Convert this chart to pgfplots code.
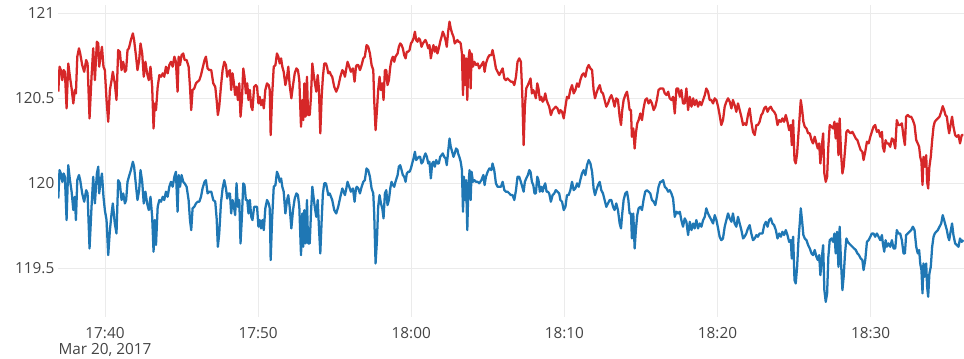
\documentclass[border=0pt]{standalone}
\usepackage{fontspec}
\setmainfont{Open Sans}
\usepackage{pgfplots}
\usepackage{pgfplotstable}
\pgfplotsset{compat=1.18}
\usetikzlibrary{calc}
\definecolor{redline}{HTML}{D62728}
\definecolor{blueline}{HTML}{1F77B4}
\definecolor{gridc}{HTML}{EBEBEB}
\definecolor{tickc}{HTML}{444444}

% t = minutes after 17:00, red series, blue series
\pgfplotstableread{
t red blue
36.95 120.539 119.911
37.03 120.686 120.078
37.12 120.666 120.058
37.21 120.607 120.009
37.30 120.666 120.058
37.38 120.656 120.039
37.49 120.441 119.784
37.60 120.705 120.107
37.71 120.627 120.019
37.82 120.558 119.951
37.93 120.470 119.843
38.03 120.549 119.921
38.10 120.529 119.784
38.19 120.745 120.019
38.30 120.794 120.049
38.38 120.764 120.019
38.51 120.696 119.941
38.64 120.656 119.892
38.77 120.725 119.960
38.86 120.705 119.941
38.99 120.382 119.617
39.12 120.627 119.862
39.23 120.794 120.039
39.34 120.607 119.882
39.47 120.833 120.058
39.56 120.823 120.098
39.62 120.686 119.941
39.71 120.745 120.009
39.80 120.803 120.058
39.90 120.686 119.921
39.99 120.666 119.843
40.10 120.490 119.784
40.21 120.362 119.578
40.32 120.549 119.725
40.43 120.607 119.823
40.51 120.656 119.882
40.64 120.588 119.764
40.75 120.490 119.705
40.86 120.784 120.019
40.97 120.774 120.000
41.08 120.666 119.902
41.19 120.715 119.941
41.30 120.656 119.882
41.38 120.666 119.902
41.47 120.784 120.009
41.56 120.794 120.039
41.69 120.843 120.078
41.82 120.882 120.127
41.90 120.843 120.098
42.03 120.745 119.980
42.12 120.666 119.902
42.23 120.725 119.960
42.32 120.823 120.078
42.43 120.764 120.009
42.53 120.627 119.882
42.64 120.715 119.951
42.75 120.647 119.882
42.86 120.607 119.843
42.97 120.686 119.921
43.08 120.568 119.803
43.17 120.323 119.598
43.25 120.470 119.784
43.33 120.431 119.637
43.44 120.568 119.862
43.55 120.637 119.902
43.66 120.627 119.892
43.77 120.647 119.921
43.87 120.627 119.902
43.98 120.686 119.951
44.09 120.647 119.921
44.20 120.696 119.980
44.31 120.715 120.009
44.42 120.686 119.980
44.53 120.745 120.039
44.63 120.715 120.068
44.74 120.539 119.833
44.81 120.745 120.049
44.90 120.696 119.980
45.00 120.754 120.049
45.11 120.764 120.009
45.20 120.725 120.000
45.33 120.725 119.980
45.46 120.686 119.902
45.55 120.568 119.784
45.63 120.431 119.725
45.72 120.549 119.853
45.83 120.558 119.862
45.94 120.588 119.882
46.05 120.598 119.892
46.16 120.607 119.892
46.27 120.637 119.921
46.37 120.676 119.970
46.50 120.725 120.009
46.59 120.745 120.019
46.70 120.676 119.941
46.81 120.666 119.951
46.94 120.666 119.951
47.07 120.588 119.902
47.20 120.568 119.892
47.29 120.490 119.794
47.37 120.402 119.627
47.46 120.451 119.705
47.57 120.568 119.882
47.68 120.666 119.970
47.79 120.715 120.019
47.90 120.696 119.970
47.98 120.627 119.911
48.07 120.656 119.941
48.16 120.666 119.941
48.24 120.549 119.823
48.33 120.647 119.902
48.42 120.588 119.862
48.50 120.519 119.813
48.59 120.568 120.000
48.68 120.490 119.862
48.77 120.588 119.902
48.85 120.392 119.647
48.94 120.490 119.803
49.03 120.676 120.000
49.11 120.627 119.990
49.20 120.529 119.902
49.29 120.588 119.902
49.37 120.490 119.823
49.46 120.549 119.902
49.55 120.451 119.803
49.63 120.431 119.784
49.74 120.568 119.862
49.85 120.578 119.862
49.93 120.568 119.862
50.02 120.470 119.745
50.10 120.509 119.784
50.19 120.460 119.735
50.28 120.490 119.784
50.37 120.441 119.725
50.47 120.549 119.853
50.58 120.588 119.902
50.69 120.578 119.882
50.76 120.549 119.853
50.82 120.284 119.549
50.91 120.509 119.784
51.02 120.686 119.980
51.13 120.696 119.990
51.23 120.764 120.068
51.32 120.745 120.049
51.41 120.705 120.009
51.50 120.735 120.029
51.58 120.686 119.980
51.67 120.656 119.951
51.78 120.578 119.823
51.89 120.627 119.902
51.97 120.686 119.931
52.06 120.578 119.862
52.17 120.500 119.735
52.28 120.578 119.843
52.39 120.647 119.911
52.50 120.676 119.941
52.60 120.666 119.931
52.69 120.607 119.862
52.80 120.333 119.578
52.89 120.490 119.823
52.95 120.372 119.627
53.02 120.588 119.843
53.10 120.392 119.647
53.19 120.627 119.902
53.26 120.402 119.647
53.37 120.402 119.647
53.45 120.509 119.823
53.54 120.705 119.980
53.63 120.637 119.911
53.71 120.588 119.853
53.80 120.539 119.803
53.89 120.637 119.902
53.97 120.558 119.745
54.06 120.294 119.588
54.15 120.509 119.784
54.23 120.627 119.941
54.32 120.705 120.000
54.43 120.705 120.000
54.50 120.686 119.970
54.58 120.647 119.931
54.67 120.656 119.941
54.76 120.637 119.921
54.84 120.627 119.902
54.97 120.568 119.843
55.10 120.539 119.823
55.23 120.568 119.862
55.37 120.627 119.921
55.50 120.666 119.970
55.58 120.656 119.951
55.67 120.627 119.931
55.76 120.676 119.970
55.84 120.715 120.009
55.95 120.686 119.980
56.06 120.656 119.951
56.19 120.676 119.970
56.30 120.598 119.892
56.39 120.686 119.970
56.45 120.696 119.980
56.54 120.696 119.970
56.65 120.666 119.941
56.76 120.696 119.980
56.87 120.735 120.009
56.97 120.745 120.019
57.08 120.813 120.088
57.19 120.803 120.078
57.30 120.764 120.039
57.41 120.696 119.970
57.52 120.666 119.941
57.58 120.490 119.823
57.67 120.313 119.529
57.76 120.431 119.666
57.84 120.549 119.862
57.93 120.627 119.931
58.02 120.549 119.882
58.11 120.588 119.853
58.19 120.490 119.794
58.28 120.666 119.941
58.37 120.666 119.960
58.45 120.578 119.872
58.54 120.607 119.902
58.63 120.686 119.970
58.71 120.725 120.009
58.80 120.745 119.990
58.89 120.715 119.980
58.97 120.745 120.009
59.11 120.764 120.049
59.19 120.803 120.098
59.28 120.823 120.107
59.37 120.813 120.078
59.45 120.794 120.049
59.54 120.754 120.039
59.63 120.735 120.009
59.71 120.774 120.058
59.80 120.774 120.068
59.89 120.784 120.068
59.98 120.823 120.088
60.06 120.833 120.117
60.15 120.853 120.147
60.24 120.892 120.186
60.32 120.843 120.137
60.41 120.833 120.147
60.50 120.853 120.156
60.58 120.843 120.156
60.67 120.803 120.117
60.76 120.823 120.127
60.84 120.833 120.156
60.93 120.843 120.176
61.02 120.823 120.156
61.11 120.794 120.117
61.19 120.813 120.127
61.28 120.735 120.029
61.37 120.784 120.117
61.45 120.813 120.127
61.54 120.774 120.098
61.63 120.803 120.137
61.71 120.764 120.117
61.80 120.794 120.117
61.89 120.833 120.156
61.98 120.862 120.166
62.06 120.892 120.176
62.15 120.872 120.156
62.24 120.843 120.147
62.32 120.803 120.107
62.41 120.892 120.186
62.50 120.951 120.264
62.58 120.911 120.215
62.67 120.882 120.186
62.76 120.862 120.156
62.84 120.823 120.176
62.93 120.833 120.205
63.02 120.843 120.196
63.06 120.833 120.176
63.14 120.833 120.156
63.23 120.823 120.127
63.31 120.764 120.078
63.38 120.519 119.833
63.44 120.754 120.039
63.51 120.578 119.902
63.58 120.735 120.019
63.66 120.490 119.725
63.73 120.725 119.980
63.81 120.784 120.078
63.88 120.558 119.902
63.94 120.764 120.068
64.03 120.686 120.009
64.12 120.715 120.019
64.23 120.696 120.009
64.34 120.705 120.009
64.44 120.676 120.000
64.58 120.696 120.019
64.71 120.715 120.049
64.79 120.656 119.990
64.88 120.705 120.039
64.99 120.735 120.068
65.10 120.754 120.088
65.23 120.754 120.078
65.31 120.784 120.117
65.42 120.735 120.078
65.53 120.676 120.000
65.64 120.656 119.980
65.75 120.637 119.980
65.86 120.656 119.980
65.97 120.676 120.009
66.08 120.617 119.960
66.18 120.607 119.951
66.29 120.617 119.951
66.40 120.607 119.941
66.51 120.598 119.931
66.62 120.598 119.931
66.73 120.578 119.902
66.84 120.627 119.960
66.94 120.715 120.039
67.05 120.735 120.039
67.16 120.715 120.009
67.25 120.529 119.980
67.34 120.225 119.951
67.42 120.451 120.009
67.51 120.558 120.029
67.62 120.578 120.049
67.71 120.598 120.078
67.79 120.617 120.068
67.88 120.529 120.009
67.97 120.549 119.990
68.05 120.529 119.941
68.14 120.500 119.941
68.23 120.588 120.039
68.31 120.558 120.019
68.40 120.490 119.951
68.49 120.509 119.980
68.58 120.480 119.951
68.66 120.490 119.980
68.75 120.529 120.000
68.84 120.490 119.951
68.92 120.470 119.951
69.01 120.451 119.941
69.12 120.402 119.892
69.23 120.431 119.931
69.34 120.441 119.941
69.44 120.451 119.960
69.55 120.441 119.951
69.66 120.411 119.941
69.74 120.431 119.902
69.85 120.421 119.892
69.96 120.382 119.843
70.07 120.451 119.862
70.17 120.509 119.931
70.28 120.500 119.931
70.39 120.549 119.960
70.50 120.578 120.009
70.61 120.529 119.960
70.72 120.549 119.970
70.83 120.588 120.000
70.94 120.568 119.980
71.04 120.607 120.019
71.15 120.637 120.058
71.26 120.647 120.078
71.37 120.627 120.049
71.48 120.676 120.107
71.59 120.696 120.137
71.70 120.676 120.117
71.81 120.666 120.068
71.91 120.549 119.970
72.00 120.500 119.931
72.09 120.529 119.960
72.20 120.558 119.990
72.31 120.578 120.009
72.41 120.539 119.960
72.52 120.529 119.941
72.63 120.490 119.902
72.74 120.451 119.862
72.85 120.470 119.882
72.96 120.500 119.902
73.07 120.519 119.902
73.18 120.490 119.862
73.28 120.451 119.843
73.39 120.500 119.882
73.50 120.490 119.843
73.61 120.392 119.764
73.70 120.343 119.735
73.78 120.431 119.823
73.87 120.490 119.902
73.98 120.519 119.941
74.09 120.539 119.951
74.18 120.490 119.902
74.26 120.431 119.823
74.35 120.431 119.823
74.41 120.274 119.676
74.50 120.323 119.823
74.59 120.205 119.617
74.67 120.294 119.725
74.76 120.353 119.813
74.85 120.372 119.853
74.96 120.411 119.862
75.07 120.372 119.843
75.17 120.441 119.902
75.28 120.490 119.951
75.39 120.500 119.960
75.50 120.470 119.951
75.61 120.490 119.941
75.72 120.470 119.902
75.83 120.431 119.892
75.94 120.451 119.872
76.04 120.490 119.921
76.15 120.549 119.980
76.26 120.558 120.009
76.34 120.558 120.009
76.45 120.558 120.019
76.56 120.529 119.980
76.67 120.519 119.970
76.78 120.539 119.951
76.88 120.500 119.960
76.99 120.490 119.941
77.10 120.509 119.911
77.21 120.411 119.803
77.32 120.558 119.833
77.43 120.558 119.823
77.54 120.509 119.833
77.64 120.549 119.784
77.75 120.470 119.745
77.86 120.470 119.794
77.97 120.558 119.774
78.08 120.431 119.696
78.19 120.509 119.774
78.30 120.451 119.725
78.41 120.500 119.764
78.51 120.460 119.735
78.62 120.490 119.784
78.73 120.451 119.735
78.84 120.480 119.764
78.95 120.460 119.745
79.06 120.490 119.784
79.17 120.519 119.803
79.27 120.558 119.853
79.38 120.539 119.823
79.49 120.490 119.803
79.60 120.490 119.784
79.71 120.470 119.764
79.82 120.500 119.813
79.93 120.490 119.784
80.04 120.451 119.735
80.14 120.402 119.686
80.25 120.343 119.666
80.36 120.372 119.676
80.47 120.451 119.745
80.58 120.480 119.784
80.69 120.500 119.823
80.80 120.480 119.794
80.91 120.441 119.774
81.01 120.490 119.823
81.12 120.460 119.764
81.23 120.421 119.745
81.34 120.470 119.803
81.45 120.431 119.764
81.56 120.392 119.725
81.67 120.343 119.676
81.77 120.353 119.686
81.88 120.343 119.705
81.99 120.402 119.735
82.10 120.441 119.754
82.21 120.362 119.705
82.32 120.303 119.666
82.43 120.284 119.676
82.54 120.343 119.696
82.64 120.343 119.686
82.75 120.362 119.705
82.86 120.402 119.705
82.94 120.411 119.705
83.05 120.441 119.754
83.16 120.451 119.774
83.27 120.421 119.745
83.37 120.441 119.784
83.48 120.451 119.794
83.59 120.431 119.764
83.70 120.421 119.754
83.81 120.402 119.725
83.92 120.343 119.676
84.03 120.372 119.705
84.14 120.362 119.686
84.24 120.382 119.715
84.35 120.362 119.696
84.46 120.402 119.725
84.57 120.362 119.696
84.68 120.313 119.656
84.79 120.343 119.666
84.85 120.225 119.558
84.94 120.372 119.686
85.03 120.137 119.431
85.11 120.117 119.411
85.20 120.176 119.509
85.29 120.294 119.666
85.38 120.411 119.774
85.44 120.490 119.853
85.53 120.431 119.774
85.61 120.362 119.696
85.70 120.333 119.676
85.81 120.323 119.666
85.92 120.294 119.637
86.03 120.294 119.617
86.14 120.254 119.588
86.24 120.235 119.578
86.35 120.274 119.608
86.46 120.235 119.568
86.55 120.205 119.549
86.64 120.235 119.578
86.72 120.117 119.460
86.81 120.215 119.558
86.90 120.294 119.637
86.98 120.058 119.372
87.07 120.009 119.303
87.16 120.039 119.353
87.24 120.215 119.568
87.33 120.343 119.666
87.44 120.333 119.676
87.55 120.323 119.656
87.64 120.362 119.705
87.72 120.264 119.588
87.81 120.353 119.715
87.90 120.166 119.509
87.98 120.382 119.745
88.07 120.176 119.529
88.16 120.058 119.372
88.24 120.098 119.451
88.33 120.196 119.588
88.42 120.303 119.676
88.51 120.313 119.656
88.59 120.303 119.647
88.70 120.294 119.637
88.81 120.303 119.627
88.92 120.284 119.617
89.03 120.264 119.608
89.14 120.254 119.588
89.24 120.225 119.578
89.35 120.196 119.558
89.46 120.186 119.549
89.54 120.137 119.490
89.65 120.186 119.549
89.76 120.245 119.656
89.87 120.235 119.666
89.98 120.274 119.686
90.08 120.303 119.705
90.19 120.333 119.705
90.30 120.343 119.686
90.41 120.303 119.705
90.52 120.313 119.686
90.63 120.274 119.666
90.74 120.303 119.696
90.80 120.215 119.647
90.89 120.186 119.598
90.98 120.254 119.666
91.06 120.235 119.627
91.17 120.235 119.647
91.28 120.215 119.627
91.39 120.264 119.666
91.50 120.254 119.617
91.61 120.205 119.617
91.71 120.372 119.725
91.82 120.343 119.705
91.93 120.343 119.705
92.04 120.353 119.666
92.15 120.274 119.588
92.24 120.225 119.588
92.32 120.392 119.696
92.43 120.402 119.705
92.54 120.392 119.715
92.65 120.392 119.725
92.76 120.372 119.745
92.87 120.343 119.725
92.98 120.254 119.627
93.08 120.235 119.588
93.17 120.215 119.608
93.24 120.156 119.529
93.32 120.127 119.490
93.39 119.990 119.353
93.45 120.156 119.529
93.54 120.098 119.451
93.63 120.166 119.529
93.69 120.009 119.392
93.76 119.970 119.333
93.84 120.098 119.470
93.93 120.156 119.509
94.02 120.254 119.627
94.11 120.333 119.686
94.19 120.362 119.705
94.28 120.372 119.715
94.39 120.382 119.725
94.50 120.392 119.745
94.61 120.421 119.764
94.71 120.454 119.813
94.80 120.431 119.784
94.89 120.402 119.754
94.98 120.392 119.725
95.06 120.333 119.686
95.13 120.294 119.666
95.24 120.353 119.725
95.32 120.392 119.764
95.41 120.333 119.696
95.52 120.284 119.647
95.63 120.274 119.637
95.74 120.284 119.627
95.84 120.235 119.676
95.95 120.284 119.656
96.06 120.284 119.666
}\pricedata

\begin{document}
\begin{tikzpicture}
\begin{axis}[
  scale only axis,
  width=679.5pt, height=234pt,
  xmin=36.93, xmax=96.1,
  ymin=119.214, ymax=121.049,
  xtick={40,50,60,70,80,90},
  xticklabels={{17:40\\Mar 20, 2017},17:50,18:00,18:10,18:20,18:30},
  ytick={119.5,120,120.5,121},
  yticklabels={119.5,120,120.5,121},
  axis line style={draw=none},
  major tick length=0pt,
  tick style={draw=none},
  grid=major,
  grid style={draw=gridc, line width=0.75pt},
  tick label style={font=\fontsize{11.5}{12}\selectfont, text=tickc},
  xticklabel style={anchor=north, inner sep=0pt, yshift=-7.5pt, align=center},
  yticklabel style={anchor=east, inner sep=0pt, xshift=-2.6pt},
  clip=true,
]
\addplot[redline, line width=1.7pt, line join=round, no marks] table[x=t, y=red] {\pricedata};
\addplot[blueline, line width=1.7pt, line join=round, no marks] table[x=t, y=blue] {\pricedata};
\end{axis}
\pgfresetboundingbox
\path ($(current axis.south west)+(-43.5pt,-31.5pt)$) rectangle ($(current axis.north east)+(0pt,3.75pt)$);
\end{tikzpicture}
\end{document}
